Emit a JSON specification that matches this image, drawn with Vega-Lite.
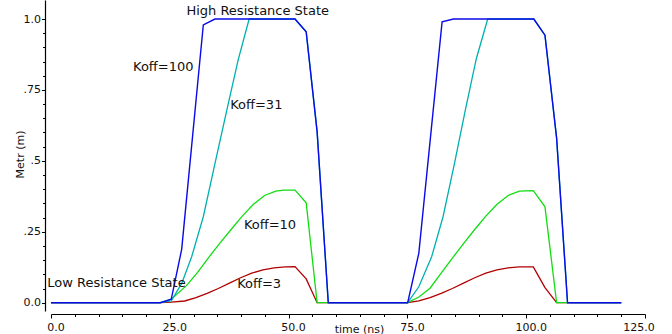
{
  "$schema": "https://vega.github.io/schema/vega-lite/v6.json",
  "width": 594,
  "height": 311,
  "autosize": "none",
  "padding": {"left": 51, "top": 0, "right": 27, "bottom": 23},
  "background": "white",
  "config": {
    "view": {"stroke": null},
    "font": "DejaVu Sans",
    "axis": {
      "grid": false,
      "domainColor": "#000",
      "domainWidth": 1.2,
      "tickColor": "#000",
      "tickWidth": 1,
      "labelColor": "#111",
      "labelFont": "DejaVu Sans",
      "labelFontSize": 11,
      "titleFont": "DejaVu Sans",
      "titleFontSize": 11,
      "titleFontWeight": "normal",
      "titleColor": "#111",
      "labelOverlap": false
    }
  },
  "datasets": {
    "k3": [
      {"t": 0, "m": 0}, {"t": 23, "m": 0}, {"t": 25.3, "m": 0.002}, {"t": 28.15, "m": 0.006}, {"t": 30.5, "m": 0.018},
      {"t": 32.85, "m": 0.033}, {"t": 35.2, "m": 0.05}, {"t": 37.55, "m": 0.069}, {"t": 39.9, "m": 0.088},
      {"t": 42.25, "m": 0.104}, {"t": 44.6, "m": 0.116}, {"t": 46.95, "m": 0.123}, {"t": 49.3, "m": 0.126},
      {"t": 51.35, "m": 0.127}, {"t": 53.7, "m": 0.084}, {"t": 56.0, "m": 0},
      {"t": 75.06, "m": 0}, {"t": 77.41, "m": 0.006}, {"t": 79.76, "m": 0.018}, {"t": 82.11, "m": 0.033},
      {"t": 84.46, "m": 0.05}, {"t": 86.81, "m": 0.069}, {"t": 89.16, "m": 0.088}, {"t": 91.51, "m": 0.104},
      {"t": 93.86, "m": 0.116}, {"t": 96.21, "m": 0.123}, {"t": 98.56, "m": 0.126}, {"t": 101.5, "m": 0.126},
      {"t": 103.95, "m": 0.053}, {"t": 106.4, "m": 0}, {"t": 120, "m": 0}
    ],
    "k10": [
      {"t": 0, "m": 0}, {"t": 23, "m": 0}, {"t": 25.3, "m": 0.012}, {"t": 28.5, "m": 0.06}, {"t": 30.85, "m": 0.107},
      {"t": 33.2, "m": 0.16}, {"t": 35.55, "m": 0.21}, {"t": 37.9, "m": 0.258}, {"t": 40.25, "m": 0.305},
      {"t": 42.6, "m": 0.347}, {"t": 44.95, "m": 0.378}, {"t": 47.3, "m": 0.393}, {"t": 49.0, "m": 0.397},
      {"t": 51.35, "m": 0.397}, {"t": 53.7, "m": 0.352}, {"t": 56.0, "m": 0},
      {"t": 75.06, "m": 0}, {"t": 77.41, "m": 0.02}, {"t": 79.76, "m": 0.051}, {"t": 82.11, "m": 0.104},
      {"t": 84.46, "m": 0.157}, {"t": 86.81, "m": 0.208}, {"t": 89.16, "m": 0.258}, {"t": 91.51, "m": 0.305},
      {"t": 93.86, "m": 0.347}, {"t": 96.21, "m": 0.378}, {"t": 98.56, "m": 0.393}, {"t": 101.5, "m": 0.395},
      {"t": 103.95, "m": 0.338}, {"t": 106.4, "m": 0}, {"t": 120, "m": 0}
    ],
    "k31": [
      {"t": 0, "m": 0}, {"t": 23, "m": 0}, {"t": 25.3, "m": 0.006}, {"t": 27.5, "m": 0.068}, {"t": 29.6, "m": 0.162},
      {"t": 32.05, "m": 0.303}, {"t": 34.5, "m": 0.49}, {"t": 37.0, "m": 0.679}, {"t": 39.4, "m": 0.857},
      {"t": 41.7, "m": 1.0}, {"t": 51.35, "m": 1.0}, {"t": 53.7, "m": 0.955}, {"t": 56.0, "m": 0.603},
      {"t": 58.35, "m": 0}, {"t": 75.06, "m": 0}, {"t": 77.4, "m": 0.056}, {"t": 80.1, "m": 0.162},
      {"t": 82.5, "m": 0.303}, {"t": 84.9, "m": 0.49}, {"t": 87.2, "m": 0.68}, {"t": 89.5, "m": 0.86},
      {"t": 91.9, "m": 1.0}, {"t": 101.6, "m": 1.0}, {"t": 103.95, "m": 0.943}, {"t": 106.4, "m": 0.58},
      {"t": 108.7, "m": 0}, {"t": 120, "m": 0}
    ],
    "k100": [
      {"t": 0, "m": 0}, {"t": 23, "m": 0}, {"t": 25.3, "m": 0.012}, {"t": 27.5, "m": 0.188}, {"t": 32.05, "m": 0.979},
      {"t": 34.5, "m": 1.0}, {"t": 51.35, "m": 1.0}, {"t": 53.7, "m": 0.955}, {"t": 56.0, "m": 0.603},
      {"t": 58.35, "m": 0}, {"t": 75.06, "m": 0}, {"t": 77.4, "m": 0.174}, {"t": 82.3, "m": 0.99},
      {"t": 84.7, "m": 1.0}, {"t": 101.6, "m": 1.0}, {"t": 103.95, "m": 0.943}, {"t": 106.4, "m": 0.58},
      {"t": 108.7, "m": 0}, {"t": 120, "m": 0}
    ],
    "notes": [
      {"t": 43.5, "m": 1.014, "label": "High Resistance State"},
      {"t": 23.63, "m": 0.8167, "label": "Koff=100"},
      {"t": 43.2, "m": 0.683, "label": "Koff=31"},
      {"t": 46.09, "m": 0.2587, "label": "Koff=10"},
      {"t": 43.8, "m": 0.0529, "label": "Koff=3"},
      {"t": 13.78, "m": 0.0564, "label": "Low Resistance State"}
    ]
  },
  "encoding": {
    "x": {
      "field": "t", "type": "quantitative",
      "scale": {"domain": [0, 125], "nice": false, "zero": false},
      "axis": {
        "title": "time (ns)",
        "offset": 3,
        "values": [0,5,10,15,20,25,30,35,40,45,50,55,60,65,70,75,80,85,90,95,100,105,110,115,120,125],
        "labelExpr": "datum.value % 25 == 0 ? format(datum.value, '.1f') : ''",
        "tickSize": {"condition": {"test": "datum.value % 25 == 0", "value": 4}, "value": 2.5},
        "labelPadding": 3,
        "labelFlush": false,
        "labelOffset": {"condition": {"test": "datum.value == 125", "value": -6.5}, "value": 4.5},
        "titleX": 308,
        "titleY": 15,
        "titleAlign": "center",
        "titleBaseline": "middle",
        "titleAnchor": null
      }
    },
    "y": {
      "field": "m", "type": "quantitative",
      "scale": {"domain": [-0.0293, 1.067], "nice": false, "zero": false},
      "axis": {
        "title": "Metr (m)",
        "offset": 6,
        "values": [0,0.05,0.1,0.15,0.2,0.25,0.3,0.35,0.4,0.45,0.5,0.55,0.6,0.65,0.7,0.75,0.8,0.85,0.9,0.95,1.0],
        "labelExpr": "datum.value == 0 ? '0.0' : datum.value == 1 ? '1.0' : datum.value == 0.25 ? '.25' : datum.value == 0.5 ? '.5' : datum.value == 0.75 ? '.75' : ''",
        "tickSize": {"condition": {"test": "datum.value == 0 || datum.value == 0.25 || datum.value == 0.5 || datum.value == 0.75 || datum.value == 1", "value": 3.5}, "value": 2.5},
        "labelPadding": 1,
        "labelFlush": false,
        "titleAngle": -90,
        "titleX": -25,
        "titleY": 154,
        "titleAlign": "center",
        "titleBaseline": "middle",
        "titleAnchor": null
      }
    }
  },
  "layer": [
    {"data": {"name": "k3"}, "mark": {"type": "line", "color": "#b00000", "strokeWidth": 1.3, "clip": true}},
    {"data": {"name": "k10"}, "mark": {"type": "line", "color": "#11dd11", "strokeWidth": 1.3, "clip": true}},
    {"data": {"name": "k31"}, "mark": {"type": "line", "color": "#00b0b0", "strokeWidth": 1.3, "clip": true}},
    {"data": {"name": "k100"}, "mark": {"type": "line", "color": "#0a0ae6", "strokeWidth": 1.4, "clip": true}},
    {"data": {"name": "notes"}, "mark": {"type": "text", "font": "DejaVu Sans", "fontSize": 13, "align": "center", "baseline": "alphabetic", "color": "#111"},
     "encoding": {"text": {"field": "label"}}}
  ]
}
